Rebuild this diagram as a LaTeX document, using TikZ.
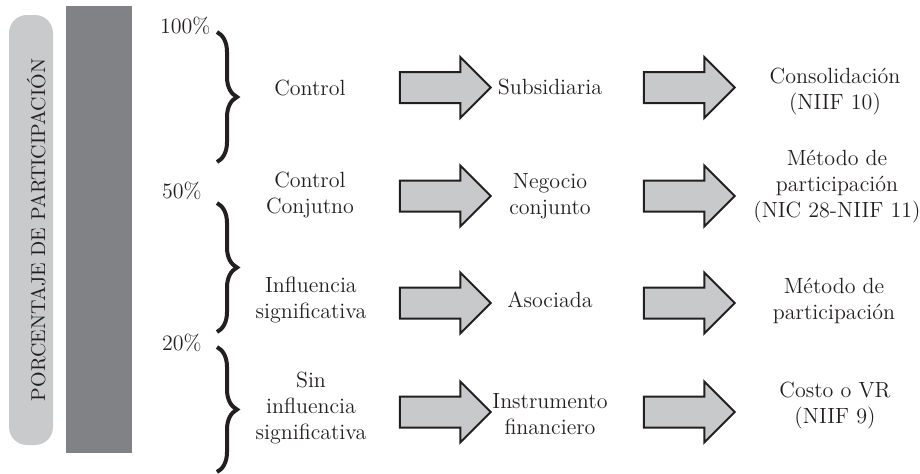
\documentclass[tikz,border=0pt]{standalone}
\usepackage{fontspec}
\usepackage{xcolor}
\usepackage{tikz}
\usetikzlibrary{shapes.arrows}
\usetikzlibrary{decorations.pathreplacing}

\definecolor{lightbar}{HTML}{C9CACC}
\definecolor{darkbar}{HTML}{808285}
\definecolor{arrowfill}{HTML}{C8C9CB}
\definecolor{ink}{HTML}{231F20}

\begin{document}
\begin{tikzpicture}[x=0.5pt, y=-0.5pt,
  every node/.style={font=\fontsize{11}{13}\selectfont, text=ink, align=center},
  bigarrow/.style={draw=ink, fill=arrowfill, line width=1pt, single arrow,
    single arrow head extend=7.5pt, inner xsep=0pt, inner ysep=7.25pt,
    minimum height=45.5pt, minimum width=0pt},
  bracket/.style={draw=ink, line width=2pt, decorate,
    decoration={brace, amplitude=10pt}},
  pct/.style={anchor=west}]

\useasboundingbox (0,0) rectangle (920,473);

\fill[lightbar, rounded corners=9pt] (9,15) rectangle (53,445);
\fill[darkbar] (66,6) rectangle (132,453);
\node[rotate=90, anchor=base, font=\fontsize{10}{12}\selectfont] (label) at (45,230) {PORCENTAJE DE PARTICIPACIÓN};

\node[pct] (p100) at (153,26) {100\%};
\node[pct] (p50) at (155,191) {50\%};
\node[pct] (p20) at (155,343) {20\%};

\coordinate (b1top) at (217,32);
\coordinate (b1bot) at (217,162);
\coordinate (b2top) at (217,203);
\coordinate (b2bot) at (217,332);
\coordinate (b3top) at (217,347);
\coordinate (b3bot) at (217,472);
\path[bracket] (b1top) -- (b1bot);
\path[bracket] (b2top) -- (b2bot);
\path[bracket] (b3top) -- (b3bot);

\node (c1) at (310,88) {Control};
\node (c2) at (310,195) {Control\\Conjutno};
\node (c3) at (311,300) {Influencia\\significativa};
\node (c4) at (311,408) {Sin\\influencia\\significativa};

\node (t1) at (550,87) {Subsidiaria};
\node (t2) at (550,196) {Negocio\\conjunto};
\node (t3) at (550,300) {Asociada};
\node (t4) at (550,414) {Instrumento\\financiero};

\node (m1) at (835,92) {Consolidación\\(NIIF 10)};
\node (m2) at (837,187) {Método de\\participación\\(NIC 28-NIIF 11)};
\node (m3) at (834,301) {Método de\\participación};
\node (m4) at (835,406) {Costo o VR\\(NIIF 9)};

\node[bigarrow] (a1) at (437.5,87.5) {};
\node[bigarrow] (a2) at (437.5,196) {};
\node[bigarrow] (a3) at (437.5,303) {};
\node[bigarrow] (a4) at (437.5,412) {};

\node[bigarrow] (b1) at (681.5,87.5) {};
\node[bigarrow] (b2) at (681.5,196) {};
\node[bigarrow] (b3) at (681.5,303) {};
\node[bigarrow] (b4) at (681.5,412) {};

\end{tikzpicture}
\end{document}
